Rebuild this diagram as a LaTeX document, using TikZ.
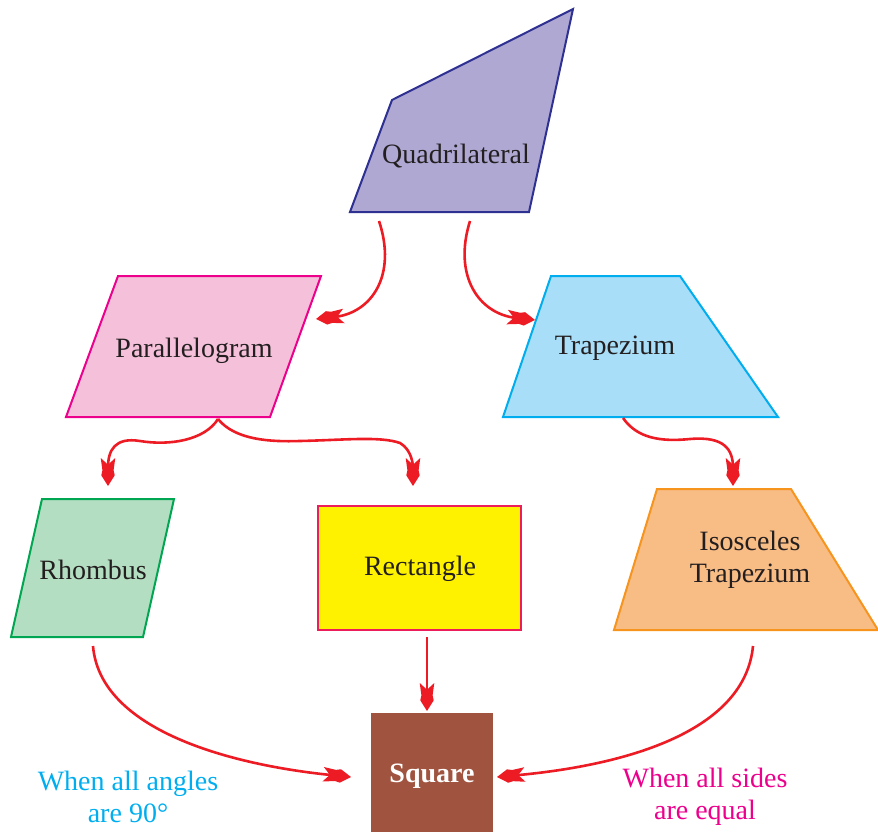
\documentclass[tikz,border=0pt]{standalone}
\usepackage{fontspec}
\setmainfont{Liberation Serif}
\usetikzlibrary{arrows.meta}

% A notched, fletched arrow head
\pgfdeclarearrow{
  name = Fletch,
  parameters = {\the\pgfarrowlength},
  setup code = {
    \pgfarrowssettipend{0pt}
    \pgfarrowssetbackend{-\pgfarrowlength}
    \pgfarrowssetlineend{-0.65\pgfarrowlength}
    \pgfarrowssavethe\pgfarrowlength
  },
  drawing code = {
    \pgfpathmoveto{\pgfpoint{0pt}{0pt}}
    \pgfpathlineto{\pgfpoint{-0.38\pgfarrowlength}{0.24\pgfarrowlength}}
    \pgfpathlineto{\pgfpoint{-0.56\pgfarrowlength}{0.20\pgfarrowlength}}
    \pgfpathlineto{\pgfpoint{-\pgfarrowlength}{0.26\pgfarrowlength}}
    \pgfpathlineto{\pgfpoint{-0.76\pgfarrowlength}{0pt}}
    \pgfpathlineto{\pgfpoint{-\pgfarrowlength}{-0.26\pgfarrowlength}}
    \pgfpathlineto{\pgfpoint{-0.56\pgfarrowlength}{-0.20\pgfarrowlength}}
    \pgfpathlineto{\pgfpoint{-0.38\pgfarrowlength}{-0.24\pgfarrowlength}}
    \pgfpathclose
    \pgfusepathqfill
  },
  defaults = {length = 27pt}
}

\definecolor{quadfill}{HTML}{AEA8D3}
\definecolor{quadline}{HTML}{2E3192}
\definecolor{parafill}{HTML}{F5C1DA}
\definecolor{paraline}{HTML}{EC008C}
\definecolor{trapfill}{HTML}{A8DEF8}
\definecolor{trapline}{HTML}{00AEEF}
\definecolor{rhomfill}{HTML}{B4DEC1}
\definecolor{rhomline}{HTML}{00A651}
\definecolor{rectfill}{HTML}{FFF200}
\definecolor{rectline}{HTML}{ED1C5A}
\definecolor{isofill}{HTML}{F8BC85}
\definecolor{isoline}{HTML}{F7941D}
\definecolor{sqfill}{HTML}{A0543F}
\definecolor{arrowred}{HTML}{ED1C24}
\definecolor{ink}{HTML}{231F20}
\definecolor{notecyan}{HTML}{00AEEF}
\definecolor{notemag}{HTML}{EC008C}

\begin{document}
\begin{tikzpicture}[x=1pt, y=-1pt,
  shapeline/.style={line width=2pt, line join=miter},
  label/.style={font=\fontsize{28}{32}\selectfont, text=ink, align=center, inner sep=0pt},
  note/.style={font=\fontsize{28}{32}\selectfont, align=center, inner sep=0pt},
  link/.style={draw=arrowred, line width=2.6pt, -{Fletch[length=28pt]}, fill=none},
]
\useasboundingbox (0,0) rectangle (878,832);

% shapes
\filldraw[shapeline, fill=quadfill, draw=quadline]
  (392,100) -- (573,9) -- (529,212) -- (350,212) -- cycle;
\filldraw[shapeline, fill=parafill, draw=paraline]
  (118,276) -- (321,276) -- (270,417) -- (66,417) -- cycle;
\filldraw[shapeline, fill=trapfill, draw=trapline]
  (551,276) -- (680,276) -- (778,417) -- (503,417) -- cycle;
\filldraw[shapeline, fill=rhomfill, draw=rhomline]
  (42,499) -- (174,499) -- (143,637) -- (11,637) -- cycle;
\filldraw[shapeline, fill=rectfill, draw=rectline]
  (318,506) rectangle (521,630);
\filldraw[shapeline, fill=isofill, draw=isoline]
  (657,489) -- (791,489) -- (878,630) -- (614,630) -- cycle;
\fill[sqfill] (371,713) rectangle (493,832);

% labels
\node[label] (quad) at (456,156) {Quadrilateral};
\node[label] (para) at (194,351) {Parallelogram};
\node[label] (trap) at (615,348) {Trapezium};
\node[label] (rhom) at (93,570) {Rhombus};
\node[label] (rect) at (420,569) {Rectangle};
\node[label] (iso) at (750,560) {Isosceles\\Trapezium};
\node[label, text=white, font=\fontsize{28}{32}\selectfont\bfseries] (sq) at (432,776) {Square};
\node[note, text=notecyan] (angles) at (128,797) {When all angles\\are 90°};
\node[note, text=notemag] (sides) at (705,797) {When all sides\\are equal};

% connector ends
\coordinate (quad-l) at (379,221);
\coordinate (quad-r) at (470,221);
\coordinate (para-in) at (316,319);
\coordinate (trap-in) at (535,320);
\coordinate (para-out) at (218,419);
\coordinate (rhom-in) at (108,486);
\coordinate (rect-in) at (413,486);
\coordinate (trap-out) at (623,418);
\coordinate (iso-in) at (733,486);
\coordinate (rhom-out) at (93,646);
\coordinate (rect-out) at (427,637);
\coordinate (iso-out) at (753,646);
\coordinate (sq-l) at (351,777);
\coordinate (sq-t) at (427,711);
\coordinate (sq-r) at (497,777);

% connectors
\draw[link] (quad-l) .. controls (397,275) and (372,313) .. (para-in);
\draw[link] (quad-r) .. controls (453,275) and (478,314) .. (trap-in);
\draw[link] (para-out) .. controls (205,440) and (170,446) .. (140,441)
  .. controls (115,437) and (108,450) .. (rhom-in);
\draw[link] (para-out) .. controls (235,440) and (270,442) .. (300,441)
  .. controls (345,440) and (380,436) .. (400,443)
  .. controls (412,450) and (413,465) .. (rect-in);
\draw[link] (trap-out) .. controls (637,438) and (660,442) .. (690,439)
  .. controls (725,436) and (733,450) .. (iso-in);
\draw[link] (rect-out) -- (sq-t);
\draw[link] (rhom-out) .. controls (100,730) and (230,765) .. (sq-l);
\draw[link] (iso-out) .. controls (745,730) and (630,765) .. (sq-r);
\end{tikzpicture}
\end{document}
